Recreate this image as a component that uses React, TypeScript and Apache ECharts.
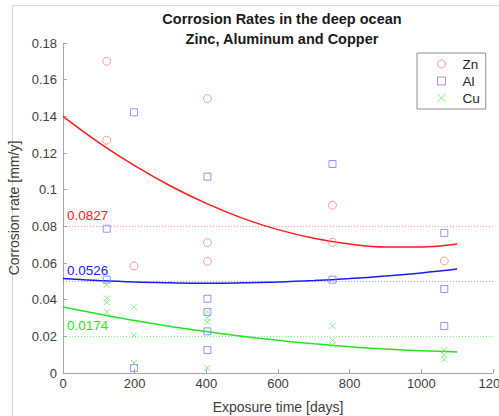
import React, { useEffect, useRef } from "react";
import * as echarts from "echarts";

// Scatter data: [exposure days, corrosion rate mm/y]
const znPoints: [number, number][] = [
  [122, 0.170], [122, 0.127], [198, 0.0584], [403, 0.1497], [403, 0.0711],
  [403, 0.0609], [752, 0.0915], [752, 0.0713], [1064, 0.0611],
];
const alPoints: [number, number][] = [
  [122, 0.0787], [122, 0.0509], [198, 0.1422], [198, 0.0027], [403, 0.1071],
  [403, 0.0405], [403, 0.0333], [403, 0.0227], [403, 0.0125], [752, 0.114],
  [752, 0.0509], [1064, 0.0764], [1064, 0.0458], [1064, 0.0256],
];
const cuPoints: [number, number][] = [
  [122, 0.0482], [122, 0.0407], [122, 0.0385], [122, 0.0333], [198, 0.0358],
  [198, 0.0205], [198, 0.0055], [403, 0.0333], [403, 0.030], [403, 0.0278],
  [403, 0.0027], [752, 0.0256], [752, 0.0178], [752, 0.0153], [1064, 0.0125],
  [1064, 0.0098], [1064, 0.0074],
];

// Fitted curves
const fitX = [0, 100, 200, 300, 400, 500, 600, 700, 800, 900, 1000, 1100];
const znFit = [0.140, 0.1257, 0.1131, 0.1020, 0.0925, 0.0845, 0.0782, 0.0735, 0.0703, 0.0687, 0.0687, 0.0703];
const alFit = [0.0515, 0.0504, 0.0496, 0.0492, 0.0490, 0.0492, 0.0496, 0.0504, 0.0515, 0.0529, 0.0546, 0.0567];
const cuFit = [0.036, 0.0322, 0.0286, 0.0254, 0.0226, 0.0200, 0.0178, 0.0159, 0.0143, 0.0131, 0.0121, 0.0115];

// Mean values
const znMean = 0.0827;
const alMean = 0.0526;
const cuMean = 0.0174;

const seriesNames = ["Zn", "Al", "Cu"];
const titleLines = ["Corrosion Rates in the deep ocean", "Zinc, Aluminum and Copper"];
const xName = "Exposure time [days]";
const yName = "Corrosion rate [mm/y]";

const FONT = "'Liberation Sans', Arial, Helvetica, sans-serif";
const RED = "#ff1a1a";
const BLUE = "#1a1aff";
const GREEN = "#1ee61e";

function meanLine(value: number, color: string, dotColor: string) {
  return {
    symbol: "none",
    silent: true,
    lineStyle: { type: [1, 2], color: dotColor, width: 1 },
    label: {
      position: "insideStartTop",
      formatter: value.toFixed(4),
      color,
      opacity: 1,
      fontSize: 13.5,
      fontFamily: FONT,
      distance: [4, 4],
    },
    data: [{ yAxis: value }],
  };
}

export default function App() {
  const ref = useRef<HTMLDivElement>(null);
  useEffect(() => {
    if (!ref.current) return;
    const chart = echarts.init(ref.current, null, { renderer: "svg" });
    const fit = (ys: number[]) => fitX.map((x, i) => [x, ys[i]]);
    chart.setOption({
      animation: false,
      backgroundColor: "#ffffff",
      textStyle: { fontFamily: FONT },
      title: {
        text: titleLines.join("\n"),
        left: 277,
        top: 4,
        textAlign: "center",
        textStyle: { fontSize: 14.5, fontWeight: "bold", color: "#1a1a1a", lineHeight: 20, fontFamily: FONT },
      },
      legend: {
        orient: "vertical",
        left: 417,
        top: 53,
        data: seriesNames,
        backgroundColor: "#ffffff",
        borderColor: "#8c8c8c",
        borderWidth: 1,
        padding: [4, 6, 4, 20],
        itemWidth: 8,
        itemHeight: 8,
        itemGap: 3,
        itemStyle: { borderWidth: 1 },
        textStyle: { fontSize: 13.5, color: "#262626", fontFamily: FONT, padding: [0, 0, 0, 12] },
      },
      grid: { left: 63, right: 6, top: 43, bottom: 43, outerBoundsMode: "none" },
      xAxis: {
        type: "value",
        min: 0,
        max: 1200,
        interval: 200,
        name: xName,
        nameLocation: "middle",
        nameGap: 27,
        nameTextStyle: { fontSize: 14, color: "#404040", fontFamily: FONT },
        axisLine: { lineStyle: { color: "#a6a6a6", width: 1 } },
        axisTick: { inside: true, length: 4, lineStyle: { color: "#a6a6a6" } },
        axisLabel: { fontSize: 13, color: "#404040", margin: 4, fontFamily: FONT, formatter: (v: number) => String(v) },
        splitLine: { show: false },
      },
      yAxis: {
        type: "value",
        min: 0,
        max: 0.18,
        interval: 0.02,
        name: yName,
        nameLocation: "middle",
        nameGap: 36,
        nameTextStyle: { fontSize: 14, color: "#404040", fontFamily: FONT },
        axisLine: { show: true, lineStyle: { color: "#a6a6a6", width: 1 } },
        axisTick: { show: true, inside: true, length: 4, lineStyle: { color: "#a6a6a6" } },
        axisLabel: {
          fontSize: 13,
          color: "#404040",
          margin: 6,
          fontFamily: FONT,
          formatter: (v: number) => String(+v.toFixed(2)),
        },
        splitLine: { show: false },
      },
      graphic: [
        { type: "line", shape: { x1: 12.5, y1: 5.5, x2: 12.5, y2: 416 }, style: { stroke: "#d4d4d4", lineWidth: 1 }, silent: true },
        { type: "line", shape: { x1: 12.5, y1: 5.5, x2: 499, y2: 5.5 }, style: { stroke: "#d4d4d4", lineWidth: 1 }, silent: true },
      ],
      series: [
        {
          name: "ZnFit",
          type: "line",
          data: fit(znFit),
          smooth: 0.4,
          showSymbol: false,
          lineStyle: { color: RED, width: 1.5 },
          itemStyle: { color: RED },
          markLine: meanLine(znMean, RED, "rgba(255,60,60,0.5)"),
          z: 3,
        },
        {
          name: "AlFit",
          type: "line",
          data: fit(alFit),
          smooth: 0.4,
          showSymbol: false,
          lineStyle: { color: BLUE, width: 1.5 },
          itemStyle: { color: BLUE },
          markLine: meanLine(alMean, BLUE, "rgba(60,60,255,0.5)"),
          z: 3,
        },
        {
          name: "CuFit",
          type: "line",
          data: fit(cuFit),
          smooth: 0.4,
          showSymbol: false,
          lineStyle: { color: GREEN, width: 1.5 },
          itemStyle: { color: GREEN },
          markLine: meanLine(cuMean, GREEN, "rgba(40,220,40,0.5)"),
          z: 3,
        },
        {
          name: seriesNames[0],
          type: "scatter",
          data: znPoints,
          symbol: "circle",
          symbolSize: 8,
          itemStyle: { color: "rgba(0,0,0,0)", borderColor: "#ff8080", borderWidth: 1 },
          z: 4,
        },
        {
          name: seriesNames[1],
          type: "scatter",
          data: alPoints,
          symbol: "rect",
          symbolSize: 7,
          itemStyle: { color: "rgba(0,0,0,0)", borderColor: "#7b7bff", borderWidth: 1 },
          z: 4,
        },
        {
          name: seriesNames[2],
          type: "scatter",
          data: cuPoints,
          symbol: "path://M0,0L10,10M10,0L0,10",
          symbolSize: 6,
          itemStyle: { color: "rgba(0,0,0,0)", borderColor: "#66e666", borderWidth: 1 },
          z: 4,
        },
      ],
    });
    return () => chart.dispose();
  }, []);
  return (
    <div
      ref={ref}
      style={{ position: "fixed", left: 0, top: 0, width: 499, height: 416, background: "#fff" }}
    />
  );
}
